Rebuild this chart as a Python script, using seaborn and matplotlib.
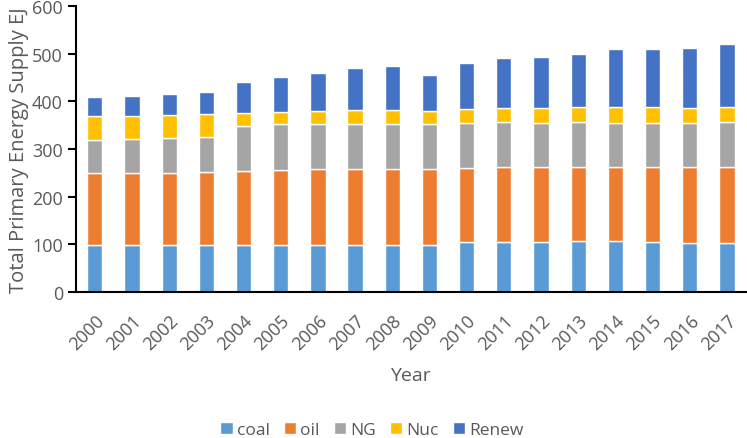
import numpy as np
import pandas as pd
import matplotlib.pyplot as plt
import seaborn as sns

# values (EJ)
years = [str(y) for y in range(2000, 2018)]
coal = [99, 99, 99, 99, 99, 99, 99, 99, 99, 99, 104, 105, 105, 107, 107, 104, 103, 103]
oil = [151, 151, 151, 153, 155, 157, 158, 159, 159, 158, 155, 156, 156, 155, 156, 158, 158, 160]
ng = [69, 70, 72, 72, 95, 96, 95, 95, 94, 95, 95, 95, 94, 94, 92, 92, 94, 93]
nuc = [50, 50, 49, 49, 26, 26, 28, 29, 29, 28, 30, 29, 31, 31, 33, 34, 31, 32]
renew = [41, 42, 44, 47, 65, 72, 79, 88, 94, 75, 96, 105, 108, 113, 122, 122, 126, 132]

labels = ['coal', 'oil', 'NG', 'Nuc', 'Renew']
colors = ['#5B9BD5', '#ED7D31', '#A5A5A5', '#FFC000', '#4472C4']

df = pd.DataFrame({'Year': years, 'coal': coal, 'oil': oil, 'NG': ng, 'Nuc': nuc, 'Renew': renew})

sns.set_style('white')
plt.rcParams['font.family'] = ['Open Sans', 'DejaVu Sans']

fig = plt.figure(figsize=(7.47, 4.39), dpi=100)
ax = fig.add_axes([0.102, 0.333, 0.896, 0.651])

bottom = np.zeros(len(years))
for lab, col in zip(labels, colors):
    sns.barplot(data=df, x='Year', y=lab, color=col, width=0.41, bottom=bottom,
                label=lab, errorbar=None, ax=ax, saturation=1)
    bottom = bottom + df[lab].values

ax.set_xlim(-0.5, len(years) - 0.5)
ax.set_ylim(0, 600)
ax.set_yticks(range(0, 601, 100))

# Excel style: ticks between categories
ax.set_xticks(np.arange(-0.5, len(years), 1), minor=True)
ax.tick_params(axis='x', which='major', length=0, pad=14)
ax.tick_params(axis='x', which='minor', length=6, width=1.5, color='black', direction='out')
ax.tick_params(axis='y', length=6, width=1.5, color='black', direction='out', left=True)
ax.tick_params(labelsize=13, labelcolor='#595959')
plt.setp(ax.get_xticklabels(), rotation=45, ha='right', rotation_mode='anchor')

for s in ['top', 'right']:
    ax.spines[s].set_visible(False)
for s in ['left', 'bottom']:
    ax.spines[s].set_color('black')
    ax.spines[s].set_linewidth(1.5)

ax.set_xlabel('Year', fontsize=14, color='#595959', labelpad=9)
ax.set_ylabel('Total Primary Energy Supply EJ', fontsize=14.5, color='#595959', labelpad=2)

ax.legend_.remove()
handles, labs = ax.get_legend_handles_labels()
fig.legend(handles, labs, loc='center', bbox_to_anchor=(0.498, 0.018), ncol=5, frameon=False,
           fontsize=12.5, handlelength=0.7, handleheight=0.7, handletextpad=0.25,
           columnspacing=0.8, labelcolor='#595959')

fig.savefig('out.png', dpi=100)
